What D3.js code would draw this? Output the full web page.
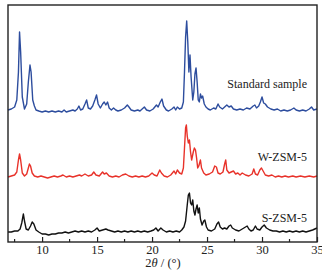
<!DOCTYPE html>
<html>
<head>
<meta charset="utf-8">
<script src="https://cdn.jsdelivr.net/npm/d3@7"></script>
<style>
  body { margin: 0; background: #fff; }
  text { font-family: "Liberation Serif", "Times New Roman", serif; }
</style>
</head>
<body>
<div id="chart"></div>
<script>
// sample names, offsets (stacking) and colours
var names = ["Standard sample", "W-ZSM-5", "S-ZSM-5"];
var offsets = [130, 64, 9];
var colors = ["#2d4d9e", "#e8322a", "#111111"];
var xTicks = [10, 15, 20, 25, 30, 35];

// [2theta, intensity]
var standard = [[6.9,2],[7.2,3],[7.5,5],[7.7,12],[7.85,40],[7.95,80],[8.05,60],[8.2,15],[8.4,3],[8.6,8],[8.75,30],[8.9,47],[9.0,40],[9.15,12],[9.3,6],[9.45,2],[9.7,1],[10.0,0],[10.3,1],[10.6,0],[10.9,1],[11.2,0],[11.5,1],[11.8,0],[12.0,2],[12.2,0],[12.5,1],[12.8,2],[13.0,1],[13.2,3],[13.35,6],[13.5,2],[13.7,3],[13.9,8],[14.05,12],[14.2,4],[14.4,3],[14.6,6],[14.8,12],[14.95,17],[15.1,8],[15.3,4],[15.5,8],[15.65,10],[15.8,7],[15.95,10],[16.1,4],[16.3,2],[16.5,4],[16.7,2],[16.9,1],[17.2,2],[17.5,4],[17.75,7],[17.9,5],[18.1,2],[18.4,1],[18.7,2],[18.9,1],[19.1,3],[19.3,5],[19.5,2],[19.8,1],[20.1,3],[20.4,7],[20.55,5],[20.75,10],[20.9,13],[21.05,6],[21.3,2],[21.5,1],[21.8,3],[22.0,5],[22.15,2],[22.3,5],[22.5,3],[22.7,4],[22.85,10],[22.95,40],[23.05,75],[23.15,91],[23.25,70],[23.35,40],[23.45,57],[23.55,35],[23.7,12],[23.8,20],[23.9,38],[24.0,44],[24.1,30],[24.2,12],[24.3,10],[24.4,18],[24.5,14],[24.6,16],[24.75,8],[24.9,5],[25.1,3],[25.3,2],[25.6,4],[25.8,3],[26.0,8],[26.15,5],[26.4,3],[26.6,5],[26.8,7],[27.0,5],[27.2,6],[27.4,3],[27.7,2],[28.0,3],[28.3,2],[28.6,4],[28.9,3],[29.2,6],[29.35,7],[29.5,4],[29.7,6],[29.85,10],[30.0,15],[30.15,9],[30.3,8],[30.5,5],[30.8,3],[31.1,2],[31.4,3],[31.7,1],[32.0,2],[32.3,1],[32.6,2],[32.9,4],[33.1,2],[33.4,1],[33.7,2],[34.0,1],[34.3,3],[34.5,5],[34.7,2],[35.0,3]];

var wzsm = [[6.9,1],[7.2,2],[7.5,3],[7.7,6],[7.85,18],[7.95,24],[8.05,18],[8.2,5],[8.4,2],[8.6,4],[8.75,10],[8.85,14],[8.95,12],[9.1,5],[9.3,2],[9.6,1],[9.9,2],[10.2,1],[10.5,0],[10.8,1],[11.1,2],[11.4,1],[11.7,2],[11.9,3],[12.2,1],[12.5,2],[12.8,1],[13.1,2],[13.4,3],[13.6,2],[13.9,4],[14.2,2],[14.5,3],[14.7,6],[14.9,3],[15.2,2],[15.5,6],[15.65,4],[15.85,5],[16.1,2],[16.4,1],[16.7,2],[17.0,1],[17.3,3],[17.6,4],[17.9,2],[18.2,1],[18.5,2],[18.8,1],[19.1,2],[19.4,1],[19.7,2],[20.0,5],[20.2,3],[20.45,2],[20.7,8],[20.85,5],[21.1,2],[21.4,1],[21.7,3],[22.0,7],[22.15,4],[22.3,8],[22.5,5],[22.7,4],[22.85,10],[22.95,30],[23.05,50],[23.12,53],[23.2,42],[23.3,35],[23.4,38],[23.5,26],[23.6,18],[23.75,26],[23.85,30],[23.95,28],[24.05,20],[24.15,10],[24.25,12],[24.4,18],[24.5,10],[24.7,5],[24.9,3],[25.2,4],[25.5,6],[25.7,12],[25.85,11],[26.0,5],[26.2,4],[26.45,6],[26.6,14],[26.7,18],[26.8,8],[27.0,5],[27.2,6],[27.4,7],[27.6,4],[27.8,5],[28.0,3],[28.2,5],[28.5,3],[28.8,2],[29.1,4],[29.25,9],[29.4,4],[29.6,3],[29.8,8],[29.95,10],[30.1,7],[30.3,3],[30.6,2],[30.9,3],[31.2,1],[31.5,2],[31.8,1],[32.1,2],[32.4,1],[32.8,2],[33.1,1],[33.5,2],[33.9,1],[34.3,2],[34.7,1],[35.0,2]];

var szsm = [[6.9,1],[7.2,1],[7.5,2],[7.8,2],[8.0,4],[8.15,10],[8.3,19],[8.4,12],[8.55,4],[8.75,3],[8.95,7],[9.1,11],[9.25,9],[9.45,3],[9.7,1],[10.0,-1],[10.3,-1],[10.6,-2],[10.9,-1],[11.2,-1],[11.5,0],[11.8,0],[12.1,1],[12.4,0],[12.7,1],[13.0,2],[13.3,1],[13.6,2],[13.9,1],[14.2,2],[14.5,1],[14.8,3],[15.0,5],[15.2,2],[15.5,3],[15.8,4],[16.0,3],[16.3,2],[16.6,1],[16.9,2],[17.2,1],[17.5,2],[17.8,1],[18.1,2],[18.4,1],[18.7,2],[19.0,1],[19.3,2],[19.6,1],[19.9,2],[20.15,3],[20.35,5],[20.55,2],[20.8,5],[21.0,3],[21.3,1],[21.6,2],[21.9,1],[22.2,2],[22.5,1],[22.7,3],[22.9,6],[23.05,12],[23.2,28],[23.3,38],[23.4,40],[23.5,30],[23.6,28],[23.7,33],[23.8,22],[23.9,18],[24.0,24],[24.1,28],[24.2,20],[24.3,25],[24.4,14],[24.55,8],[24.7,12],[24.8,13],[24.95,6],[25.1,3],[25.4,2],[25.7,4],[25.9,9],[26.05,11],[26.2,6],[26.4,4],[26.6,5],[26.8,4],[27.0,7],[27.15,8],[27.3,5],[27.6,3],[27.9,2],[28.2,4],[28.5,6],[28.65,7],[28.8,4],[29.0,2],[29.2,3],[29.4,7],[29.55,4],[29.8,3],[30.0,6],[30.2,8],[30.4,5],[30.7,3],[31.0,2],[31.3,2],[31.6,1],[31.9,2],[32.2,1],[32.5,2],[32.8,1],[33.1,2],[33.4,1],[33.7,2],[34.0,1],[34.3,2],[34.6,3],[34.8,4],[35.0,5]];

var series = [standard, wzsm, szsm];

var width = 322, height = 274;
var margin = {top: 5, right: 5, bottom: 32, left: 8};
var w = width - margin.left - margin.right;
var h = height - margin.top - margin.bottom;

var svg = d3.select("#chart").append("svg")
    .attr("width", width)
    .attr("height", height);

var g = svg.append("g")
    .attr("transform", "translate(" + margin.left + "," + margin.top + ")");

var x = d3.scaleLinear().domain([6.9, 35]).range([0, w]);
var y = d3.scaleLinear().domain([0, 237]).range([h, 0]);

// 画三条谱线
var line = d3.line()
    .x(d => x(d[0]))
    .y(d => y(d[1]));

series.forEach(function(s, i) {
    var pts = s.map(d => [d[0], d[1] + offsets[i]]);
    g.append("path")
        .datum(pts)
        .attr("d", line)
        .attr("fill", "none")
        .attr("stroke", colors[i])
        .attr("stroke-width", 1.4)
        .attr("stroke-linejoin", "round");
});

// 边框
g.append("rect")
    .attr("width", w)
    .attr("height", h)
    .attr("fill", "none")
    .attr("stroke", "#222")
    .attr("stroke-width", 1.4);

// x 轴，刻度朝内
var xAxis = d3.axisBottom(x)
    .tickValues(xTicks)
    .tickSizeInner(-5)
    .tickSizeOuter(0)
    .tickPadding(3);

var ax = g.append("g")
    .attr("transform", "translate(0," + h + ")")
    .call(xAxis);
ax.select(".domain").remove();
ax.selectAll("line").attr("stroke", "#222").attr("stroke-width", 1.2);
ax.selectAll("text")
    .style("font-family", "Liberation Serif, serif")
    .style("font-size", "12.5px")
    .attr("fill", "#222");

// minor ticks
var minor = xTicks.map(t => t - 2.5);
ax.selectAll(".minor")
    .data(minor)
    .enter()
    .append("line")
    .attr("x1", d => x(d))
    .attr("x2", d => x(d))
    .attr("y1", 0)
    .attr("y2", -3)
    .attr("stroke", "#222")
    .attr("stroke-width", 1.2);

// x 轴名
var xl = svg.append("text")
    .attr("x", margin.left + x(21))
    .attr("y", 267)
    .style("text-anchor", "middle")
    .style("font-size", "12.5px")
    .attr("fill", "#222");
xl.append("tspan").text("2");
xl.append("tspan").style("font-style", "italic").text("θ");
xl.append("tspan").text(" / (°)");

// 样品名
var labelY = [88, 161, 222];
names.forEach(function(n, i) {
    svg.append("text")
        .attr("x", 307)
        .attr("y", labelY[i])
        .style("text-anchor", "end")
        .style("font-size", "12px")
        .attr("fill", "#222")
        .text(n);
});
</script>
</body>
</html>
